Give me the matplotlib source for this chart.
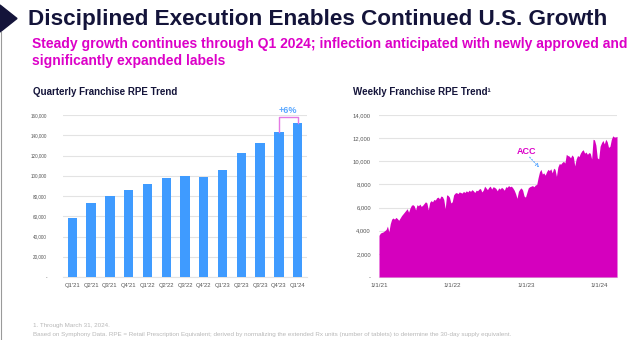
import matplotlib
matplotlib.use("Agg")
import matplotlib.pyplot as plt
import numpy as np
import pandas as pd
from matplotlib.patches import Polygon
from matplotlib.lines import Line2D

plt.rcParams['font.family'] = ['Liberation Sans', 'DejaVu Sans']

# ---------------- data ----------------
quarters = ["Q1'21", "Q2'21", "Q3'21", "Q4'21", "Q1'22", "Q2'22", "Q3'22",
            "Q4'22", "Q1'23", "Q2'23", "Q3'23", "Q4'23", "Q1'24"]
quarterly_rpe = [58500, 73400, 79700, 86200, 91900, 97500, 99800,
                 98800, 106000, 122500, 132700, 142900, 152100]
left_yticks = [0, 20000, 40000, 60000, 80000, 100000, 120000, 140000, 160000]

week_start = "2021-01-01"
weekly_rpe = [
    # 2021
    3600, 3800, 3850, 3900, 4000, 4100, 4400, 3900, 4600, 5000, 5100, 5000,
    5150, 5050, 4900, 5100, 5300, 5450, 5600, 5750, 5900, 5600, 5950, 6200,
    6250, 6150, 5800, 6250, 6150, 6300, 6100, 6200, 6350, 6500, 6400, 5800,
    6450, 6600, 6500, 6700, 6650, 6850, 6900, 6750, 7000, 6950, 6700, 5900,
    7100, 7050, 6900, 6400,
    # 2022
    6500, 7100, 7250, 7300, 7200, 7350, 7300, 7250, 7400, 7300, 7450, 7350,
    7500, 7400, 7550, 7450, 7300, 7500, 7450, 7600, 7650, 7350, 7500, 7850,
    7700, 7550, 7750, 7850, 7600, 7800, 7750, 7650, 7450, 7700, 7600, 7750,
    7650, 7500, 7800, 7750, 7900, 7800, 7850, 7700, 7500, 7200, 6800, 7400,
    7600, 7700, 7500, 7000,
    # 2023
    6900, 7300, 7700, 7800, 7850, 7900, 7800, 7950, 8000, 8600, 9100, 9300,
    8900, 9000, 8800, 9100, 9300, 9200, 9350, 9000, 9400, 9300, 8700, 9500,
    9800, 9750, 9900, 10000, 9850, 10600, 10500, 10450, 10300, 10550, 10400, 9600,
    10200, 10500, 10400, 10700, 10900, 11000, 10700, 10800, 10600, 10750, 10700, 10200,
    11900, 11850, 11400, 10300,
    # 2024
    10200, 11300, 11600, 11800, 11500, 11900, 11700, 11200, 11300, 11900, 12200, 12100,
    12100, 12150,
]
right_yticks = [0, 2000, 4000, 6000, 8000, 10000, 12000, 14000]
date_ticks = ["2021-01-01", "2022-01-01", "2023-01-01", "2024-01-01"]
date_labels = ["1/1/21", "1/1/22", "1/1/23", "1/1/24"]

# ---------------- style ----------------
NAVY = "#14143a"
MAGENTA = "#dc00c8"
AREA = "#d500be"
BLUE = "#3f9bff"
GRID = "#e3e3e3"
TICK = "#555555"

W, H = 640, 340
fig = plt.figure(figsize=(6.4, 3.4), dpi=100)
fig.patch.set_facecolor("white")


def fx(px):
    return px / W


def fy(py):
    return 1 - py / H


# decorative chevron and left rule
fig.patches.append(Polygon([[0, fy(5)], [fx(17), fy(18.5)], [0, fy(32)]],
                           closed=True, transform=fig.transFigure, color=NAVY))
fig.lines.append(Line2D([fx(1), fx(1)], [fy(32), 0], transform=fig.transFigure,
                        color="#9a9a9a", linewidth=0.8))

fig.text(fx(28), fy(25), "Disciplined Execution Enables Continued U.S. Growth",
         fontsize=16.2, fontweight="bold", color=NAVY, va="baseline", ha="left")
fig.text(fx(32), fy(48),
         "Steady growth continues through Q1 2024; inflection anticipated with newly approved and",
         fontsize=10.0, fontweight="bold", color=MAGENTA, va="baseline", ha="left")
fig.text(fx(32), fy(65), "significantly expanded labels",
         fontsize=10.0, fontweight="bold", color=MAGENTA, va="baseline", ha="left")

fig.text(fx(33), fy(95), "Quarterly Franchise RPE Trend",
         fontsize=7.0, fontweight="bold", color=NAVY, va="baseline", ha="left")
fig.text(fx(353), fy(95), "Weekly Franchise RPE Trend\u00b9",
         fontsize=7.0, fontweight="bold", color=NAVY, va="baseline", ha="left")

fig.text(fx(33), fy(327), "1. Through March 31, 2024.",
         fontsize=4.5, color="#b8b8b8", va="baseline", ha="left")
fig.text(fx(33), fy(336),
         "Based on Symphony Data. RPE = Retail Prescription Equivalent; derived by normalizing the extended Rx units (number of tablets) to determine the 30-day supply equivalent.",
         fontsize=4.5, color="#b8b8b8", va="baseline", ha="left")


def fmt_thousands(v):
    return "-" if v == 0 else f"{int(v):,}"


def style_axes(ax, ysize, ypad, xsize):
    for s in ["top", "right", "left"]:
        ax.spines[s].set_visible(False)
    ax.spines["bottom"].set_color(GRID)
    ax.spines["bottom"].set_linewidth(0.8)
    ax.tick_params(axis="y", length=0, labelsize=ysize, labelcolor=TICK, pad=ypad)
    ax.tick_params(axis="x", length=0, labelsize=xsize, labelcolor=TICK, pad=4)
    ax.grid(axis="y", color=GRID, linewidth=0.8)
    ax.set_axisbelow(True)


# ---------------- left: quarterly bars ----------------
axl = fig.add_axes([fx(63), 63 / H, 244 / W, 162 / H])
x = np.arange(len(quarters))
axl.bar(x, quarterly_rpe, width=0.5, color=BLUE, zorder=3)
axl.set_xlim(-0.5, 12.5)
axl.set_ylim(0, 160000)
axl.set_yticks(left_yticks)
axl.set_yticklabels([fmt_thousands(v) for v in left_yticks])
axl.set_xticks(x)
axl.set_xticklabels(quarters)
style_axes(axl, 3.3, 11.5, 4.2)

top_br = 158000
axl.plot([x[-2], x[-2], x[-1], x[-1]],
         [quarterly_rpe[-2], top_br, top_br, quarterly_rpe[-1]],
         color="#e47ae4", linewidth=1.0, clip_on=False, zorder=4)
axl.text((x[-2] + x[-1]) / 2, 164500, "+6%", ha="center", va="center",
         fontsize=6.5, fontweight="bold", color="#5aa8ff", clip_on=False)

# ---------------- right: weekly area ----------------
axr = fig.add_axes([fx(379), 63 / H, 238 / W, 162 / H])
dates = pd.date_range(week_start, periods=len(weekly_rpe), freq="7D")
axr.fill_between(dates, 0, weekly_rpe, color=AREA, linewidth=0, zorder=3)
axr.set_xlim(dates[0], dates[-1])
axr.set_ylim(0, 14000)
axr.set_yticks(right_yticks)
axr.set_yticklabels([fmt_thousands(v) for v in right_yticks])
axr.set_xticks(pd.to_datetime(date_ticks))
axr.set_xticklabels(date_labels)
style_axes(axr, 4.2, 5.8, 4.5)

axr.text(pd.Timestamp("2023-01-02"), 10850, "ACC", fontsize=6.5, fontweight="bold",
         color=MAGENTA, ha="center", va="center", zorder=5)
axr.annotate("", xy=(pd.Timestamp("2023-03-08"), 9480),
             xytext=(pd.Timestamp("2023-01-20"), 10350),
             arrowprops=dict(arrowstyle="->", color="#5aa8ff", linewidth=0.8,
                             linestyle=":", shrinkA=0, shrinkB=0, mutation_scale=5))

fig.savefig("out.png", dpi=100, facecolor="white")
